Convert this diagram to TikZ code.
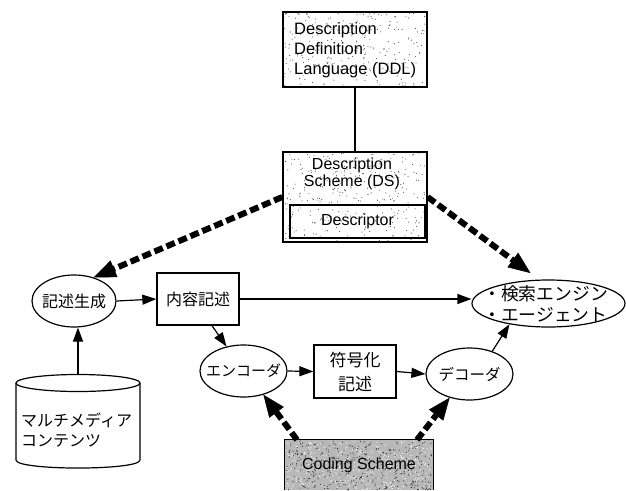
\documentclass[tikz,border=0pt]{standalone}
\usepackage{fontspec}
\setmainfont{Liberation Sans}
\newfontfamily\jpfont{Noto Sans CJK JP}
\usetikzlibrary{arrows.meta,shapes.geometric,backgrounds}

% random screen-tone dots inside a rectangle: x1 y1 x2 y2 count colour
\newcommand\screentone[6]{%
  \foreach \k in {1,...,#5}{%
    \pgfmathsetmacro\sx{#1+rnd*(#3-#1)}%
    \pgfmathsetmacro\sy{#2+rnd*(#4-#2)}%
    \fill[#6] (\sx,\sy) circle (0.55pt);
  }}

\tikzset{
  box/.style={draw, line width=1.3pt, rectangle, inner sep=0pt, align=center},
  oval/.style={draw, line width=1.2pt, ellipse, inner sep=0pt},
  plain/.style={line width=1.2pt},
  flow/.style={line width=1.2pt, -{Triangle[length=14pt,width=10pt]}},
  dep/.style={line width=6pt, dash pattern=on 9pt off 4pt,
              -{Triangle[length=22pt,width=18pt,line width=0.4pt]}},
  en/.style={font=\fontsize{16}{17}\selectfont},
  ja/.style={font=\jpfont\fontsize{16}{20}\selectfont},
}

\begin{document}
\begin{tikzpicture}[x=1pt,y=-1pt]
\useasboundingbox (0,0) rectangle (626,490);
\pgfmathsetseed{11}

% description language and description scheme
\node[box, minimum width=144pt, minimum height=75pt] (ddl) at (355,49.5) {};
\node[en, font=\fontsize{16.5}{20}\selectfont, align=left, anchor=west, inner sep=0pt]
      (ddltext) at (294,50) {Description\\Definition\\Language (DDL)};
\node[box, minimum width=144pt, minimum height=90pt] (ds) at (355,197) {};
\node[en, align=center] (dstext) at (352,174) {Description\\Scheme (DS)};
\node[box, en, line width=1.8pt, minimum width=135pt, minimum height=33pt]
      (desc) at (357.5,221.5) {Descriptor};

% generation, description and search
\node[oval, minimum width=84pt, minimum height=52pt,
      label={[ja]center:記述生成}] (gen) at (74,301) {};
\node[box, ja, minimum width=82pt, minimum height=52pt] (content) at (198,299) {内容記述};
\node[oval, minimum width=153pt, minimum height=47pt,
      label={[ja, font=\jpfont\fontsize{17.8}{21}\selectfont, align=left, xshift=-3pt]center:・検索エンジン\\・エージェント}]
      (search) at (548.5,303.5) {};

% coding chain
\node[oval, minimum width=87pt, minimum height=52pt,
      label={[ja, font=\jpfont\fontsize{15}{18}\selectfont]center:エンコーダ}] (enc) at (243.5,371) {};
\node[box, ja, font=\jpfont\fontsize{17}{24}\selectfont,
      minimum width=82pt, minimum height=53pt] (code) at (355,371.5) {符号化\\記述};
\node[oval, minimum width=87pt, minimum height=52pt,
      label={[ja, font=\jpfont\fontsize{15.5}{18}\selectfont]center:デコーダ}] (dec) at (469.5,374) {};

% coding scheme box, running off the lower edge
\node[en, minimum width=148pt, minimum height=50pt, inner sep=0pt] (cs) at (359,465) {Coding Scheme};
\draw[line width=1.3pt] (cs.south west) -- (cs.north west) -- (cs.north east) -- (cs.south east);

% multimedia contents cylinder
\draw[plain] (78,383) ellipse [x radius=62, y radius=8.5];
\draw[plain] (16,383) -- (16,460) .. controls (16,470.7) and (140,470.7) .. (140,460) -- (140,383);
\node[ja, align=left, anchor=west, inner sep=0pt] (media) at (21,430) {マルチメディア\\コンテンツ};
\coordinate (cyltop) at (78,374.5);

% screen tones
\begin{scope}[on background layer]
  \fill[white] (ddl.north west) rectangle (ddl.south east);
  \screentone{284}{13}{426}{86}{260}{black!70}
  \fill[white] (ds.north west) rectangle (ds.south east);
  \screentone{284}{153}{426}{241}{300}{black!70}
  \fill[black!28] (cs.north west) rectangle (cs.south east);
  \screentone{286}{441}{432}{490}{420}{black!85}
  \screentone{286}{441}{432}{490}{420}{white}
\end{scope}

% connectors
\draw[plain] (ddl.south) -- (ds.north);
\draw[flow] (gen.east) -- (content.west);
\draw[flow] (content.east) -- (content.east -| search.west);
\draw[flow] ([xshift=14pt]content.south) -- (enc);
\draw[flow] (enc.east) -- (code.west);
\draw[flow] (code.east) -- (dec.west);
\draw[flow] (dec.45) -- (search.208);
\draw[flow] (cyltop) -- (cyltop |- gen.south);

% dependencies on the schemes
\draw[dep] (ds.west) -- (gen.50);
\draw[dep, shorten >=11pt] (ds.east) -- (search.111);
\draw[dep] ([xshift=-62pt]cs.north) -- (enc.-50);
\draw[dep] ([xshift=58pt]cs.north) -- (dec.230);
\end{tikzpicture}
\end{document}
